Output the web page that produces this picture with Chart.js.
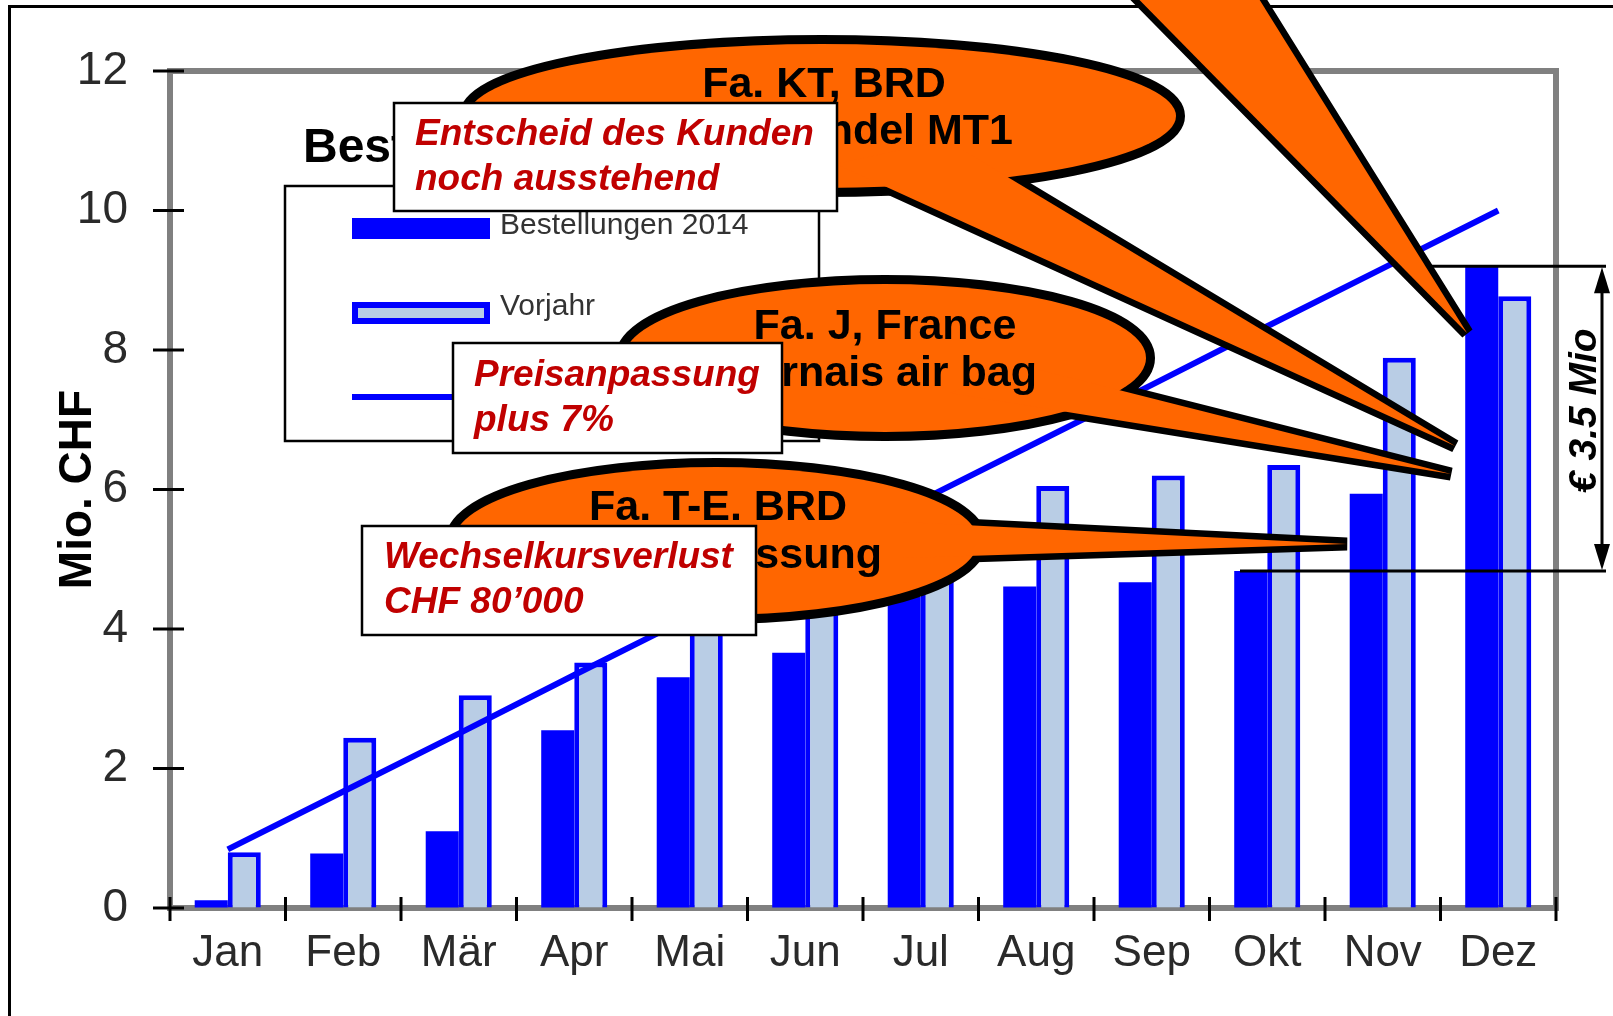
<!DOCTYPE html>
<html>
<head>
<meta charset="utf-8">
<script src="https://cdn.jsdelivr.net/npm/chart.js@4.4.1/dist/chart.umd.min.js"></script>
<style>
    html, body { margin: 0; padding: 0; background: #ffffff; }
    #wrap { position: relative; width: 1613px; height: 1016px; }
</style>
</head>
<body>
<div id="wrap"><canvas id="bestChart" width="1613" height="1016"></canvas></div>
<script>
// Werte in Mio. CHF
var monate = ["Jan", "Feb", "Mär", "Apr", "Mai", "Jun", "Jul", "Aug", "Sep", "Okt", "Nov", "Dez"];
var bestellungen2014 = [0.11, 0.78, 1.10, 2.55, 3.31, 3.66, 4.46, 4.61, 4.67, 4.83, 5.94, 9.20];
var vorjahr = [0.80, 2.44, 3.05, 3.52, 4.20, 4.80, 5.40, 6.05, 6.20, 6.35, 7.89, 8.77];
var zielLinie = [0.84, 1.67, 2.50, 3.34, 4.17, 5.00, 5.84, 6.67, 7.50, 8.34, 9.17, 10.00];
var yMin = 0;
var yMax = 12;
var yStep = 2;

var legendeTitel = "Bestellungen";
var blasenTexte = [
    ["Fa. KT, BRD", "Wandel MT1"],
    ["Fa. J, France", "Fournais air bag"],
    ["Fa. T-E. BRD", "Preisanpassung"]
];
var kastenTexte = [
    ["Entscheid des Kunden", "noch ausstehend"],
    ["Preisanpassung", "plus 7%"],
    ["Wechselkursverlust", "CHF 80\u2019000"]
];
var differenzText = "\u20ac 3.5 Mio";

var mainFont = "'Liberation Sans', Arial, sans-serif";
var orange = "#ff6600";
var rot = "#c00000";

function polyPath(ctx, pts) {
    ctx.beginPath();
    ctx.moveTo(pts[0][0], pts[0][1]);
    for (var i = 1; i < pts.length; i++) {
        ctx.lineTo(pts[i][0], pts[i][1]);
    }
    ctx.closePath();
}

function sprechblase(ctx, e, spitze) {
    ctx.save();
    ctx.lineJoin = "miter";
    ctx.miterLimit = 2;
    ctx.strokeStyle = "#000";
    if (e) {
        ctx.lineWidth = 18;
        ctx.beginPath();
        ctx.ellipse(e.x, e.y, e.rx, e.ry, 0, 0, Math.PI * 2);
        ctx.stroke();
    }
    ctx.lineWidth = 13;
    polyPath(ctx, spitze);
    ctx.stroke();
    ctx.fillStyle = orange;
    if (e) {
        ctx.beginPath();
        ctx.ellipse(e.x, e.y, e.rx, e.ry, 0, 0, Math.PI * 2);
        ctx.fill();
    }
    polyPath(ctx, spitze);
    ctx.fill();
    ctx.restore();
}

function blasenText(ctx, zeilen, cx, y1, rechts, y2) {
    ctx.save();
    ctx.fillStyle = "#000";
    ctx.font = "bold 43px " + mainFont;
    ctx.textBaseline = "middle";
    ctx.textAlign = "center";
    ctx.fillText(zeilen[0], cx, y1);
    ctx.textAlign = "right";
    ctx.fillText(zeilen[1], rechts, y2);
    ctx.restore();
}

function kasten(ctx, x, y, w, h, zeilen, tx, ty1, ty2) {
    ctx.save();
    ctx.fillStyle = "#fff";
    ctx.fillRect(x, y, w, h);
    ctx.strokeStyle = "#000";
    ctx.lineWidth = 2.5;
    ctx.strokeRect(x, y, w, h);
    ctx.fillStyle = rot;
    ctx.font = "italic bold 37px " + mainFont;
    ctx.textBaseline = "middle";
    ctx.textAlign = "left";
    ctx.fillText(zeilen[0], tx, ty1);
    ctx.fillText(zeilen[1], tx, ty2);
    ctx.restore();
}

var overlayPlugin = {
    id: "overlay",
    beforeDatasetsDraw: function(chart) {
        var ctx = chart.ctx;
        var a = chart.chartArea;
        ctx.save();
        ctx.strokeStyle = "#808080";
        ctx.lineWidth = 6;
        ctx.strokeRect(a.left, a.top, a.right - a.left, a.bottom - a.top);
        ctx.restore();
    },
    afterDatasetsDraw: function(chart) {
        var ctx = chart.ctx;
        var a = chart.chartArea;
        var xs = chart.scales.x;
        var ys = chart.scales.y;
        ctx.save();
        ctx.strokeStyle = "#000";
        ctx.lineWidth = 3;
        ys.ticks.forEach(function(t) {
            var py = ys.getPixelForValue(t.value);
            ctx.beginPath();
            ctx.moveTo(a.left - 17, py);
            ctx.lineTo(a.left + 14, py);
            ctx.stroke();
        });
        var step = xs.getPixelForValue(1) - xs.getPixelForValue(0);
        var x0 = xs.getPixelForValue(0) - step / 2;
        for (var i = 0; i <= monate.length; i++) {
            var px = x0 + i * step;
            ctx.beginPath();
            ctx.moveTo(px, a.bottom - 11);
            ctx.lineTo(px, a.bottom + 13);
            ctx.stroke();
        }
        ctx.restore();
    },
    afterDraw: function(chart) {
        var ctx = chart.ctx;
        var ys = chart.scales.y;
        var ds = chart.data.datasets;

        // Rahmen oben und links
        ctx.save();
        ctx.strokeStyle = "#000";
        ctx.lineWidth = 3;
        ctx.beginPath();
        ctx.moveTo(9.5, 1016);
        ctx.lineTo(9.5, 6.5);
        ctx.lineTo(1613, 6.5);
        ctx.stroke();
        ctx.restore();

        // Legende
        ctx.save();
        ctx.fillStyle = "#000";
        ctx.font = "bold 48px " + mainFont;
        ctx.textBaseline = "middle";
        ctx.fillText(legendeTitel, 303, 149);
        ctx.fillStyle = "#fff";
        ctx.fillRect(285, 186, 534, 255);
        ctx.strokeStyle = "#000";
        ctx.lineWidth = 2.5;
        ctx.strokeRect(285, 186, 534, 255);
        ctx.fillStyle = ds[0].backgroundColor;
        ctx.fillRect(352, 218, 138, 21);
        ctx.fillStyle = ds[1].borderColor;
        ctx.fillRect(352, 302, 138, 22);
        ctx.fillStyle = ds[1].backgroundColor;
        ctx.fillRect(358, 308, 126, 10);
        ctx.strokeStyle = ds[2].borderColor;
        ctx.lineWidth = 6;
        ctx.beginPath();
        ctx.moveTo(352, 397);
        ctx.lineTo(490, 397);
        ctx.stroke();
        ctx.fillStyle = "#333";
        ctx.font = "30px " + mainFont;
        ctx.fillText(ds[0].label, 500, 226);
        ctx.fillText(ds[1].label, 500, 307);
        ctx.restore();

        // Differenz Dez / Okt
        var yTop = ys.getPixelForValue(bestellungen2014[11]);
        var yBot = ys.getPixelForValue(bestellungen2014[9]);
        var ax = 1602;
        ctx.save();
        ctx.strokeStyle = "#000";
        ctx.fillStyle = "#000";
        ctx.lineWidth = 3;
        ctx.beginPath();
        ctx.moveTo(1427, yTop);
        ctx.lineTo(1606, yTop);
        ctx.moveTo(1240, yBot);
        ctx.lineTo(1606, yBot);
        ctx.moveTo(ax, yTop + 20);
        ctx.lineTo(ax, yBot - 20);
        ctx.stroke();
        polyPath(ctx, [[ax, yTop + 1], [ax - 8, yTop + 27], [ax + 8, yTop + 27]]);
        ctx.fill();
        polyPath(ctx, [[ax, yBot - 1], [ax - 8, yBot - 27], [ax + 8, yBot - 27]]);
        ctx.fill();
        ctx.translate(1585, (yTop + yBot) / 2 - 8);
        ctx.rotate(-Math.PI / 2);
        ctx.font = "italic bold 39px " + mainFont;
        ctx.textAlign = "center";
        ctx.textBaseline = "middle";
        ctx.fillText(differenzText, 0, 0);
        ctx.restore();

        // Sprechblasen
        sprechblase(ctx, null, [[1110, -30], [1467, 333], [1241, -30]]);
        sprechblase(ctx, { x: 822, y: 116, rx: 354, ry: 72 }, [[836, 164], [1455, 446], [946, 140]]);
        blasenText(ctx, blasenTexte[0], 824, 85, 1013, 132);
        sprechblase(ctx, { x: 885, y: 358, rx: 261, ry: 74 }, [[950, 393], [1451, 474], [1024, 366]]);
        blasenText(ctx, blasenTexte[1], 885, 327, 1037, 374);
        sprechblase(ctx, { x: 716, y: 541, rx: 262, ry: 74 }, [[903, 522], [1347, 544], [903, 558]]);
        blasenText(ctx, blasenTexte[2], 718, 508, 882, 556);

        // Kaesten
        kasten(ctx, 394, 103, 443, 108, kastenTexte[0], 415, 135, 180);
        kasten(ctx, 453, 343, 329, 110, kastenTexte[1], 474, 376, 421);
        kasten(ctx, 362, 526, 394, 109, kastenTexte[2], 384, 558, 603);
    }
};

var ctx = document.getElementById("bestChart").getContext("2d");
var myChart = new Chart(ctx, {
    type: "bar",
    data: {
        labels: monate,
        datasets: [
            {
                label: "Bestellungen 2014",
                data: bestellungen2014,
                backgroundColor: "#0000ff",
                borderWidth: 0,
                categoryPercentage: 0.572,
                barPercentage: 1.0,
                order: 1
            },
            {
                label: "Vorjahr",
                data: vorjahr,
                backgroundColor: "#b9cde5",
                borderColor: "#0000ff",
                borderWidth: 5,
                categoryPercentage: 0.572,
                barPercentage: 1.0,
                order: 1
            },
            {
                type: "line",
                label: "Ziel",
                data: zielLinie,
                borderColor: "#0000ff",
                borderWidth: 6,
                pointRadius: 0,
                fill: false,
                tension: 0,
                order: 0
            }
        ]
    },
    options: {
        responsive: false,
        animation: false,
        devicePixelRatio: 1,
        layout: { padding: { top: 71, right: 57, left: 0, bottom: 0 } },
        plugins: {
            legend: { display: false },
            tooltip: { enabled: false }
        },
        scales: {
            x: {
                grid: { display: true, drawOnChartArea: false, drawTicks: false, offset: true },
                border: { display: true, color: "#000", width: 3 },
                ticks: {
                    color: "#2a2a2a",
                    font: { family: mainFont, size: 44 },
                    padding: 19,
                    maxRotation: 0,
                    autoSkip: false
                },
                afterFit: function(s) { s.height = 108; }
            },
            y: {
                min: yMin,
                max: yMax,
                grid: { display: true, drawOnChartArea: false, drawTicks: false },
                border: { display: true, color: "#000", width: 3 },
                ticks: {
                    stepSize: yStep,
                    color: "#2a2a2a",
                    font: { family: mainFont, size: 46 },
                    padding: 42
                },
                title: {
                    display: true,
                    text: "Mio. CHF",
                    color: "#000",
                    font: { family: mainFont, size: 46, weight: "bold" },
                    padding: { top: 51, bottom: 0 }
                },
                afterFit: function(s) { s.width = 170; }
            }
        }
    },
    plugins: [overlayPlugin]
});
</script>
</body>
</html>
